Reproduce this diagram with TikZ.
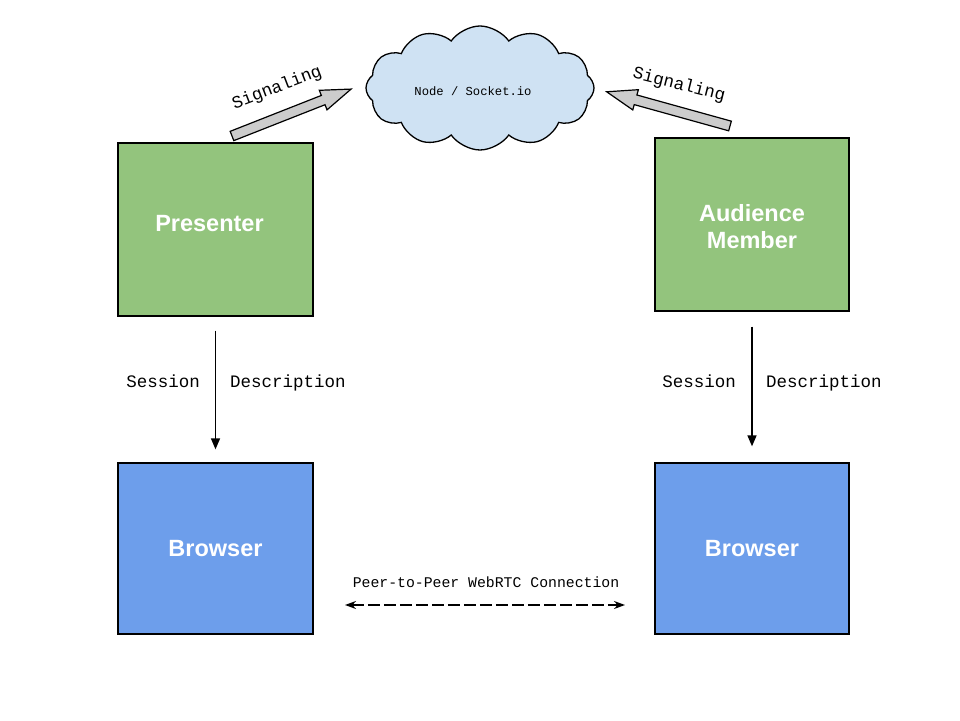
\documentclass[tikz,border=0pt]{standalone}
\usepackage{fontspec}
\setmainfont{Liberation Sans}
\newfontfamily\monof{Liberation Mono}
\usetikzlibrary{shapes.symbols,arrows.meta}
\definecolor{boxgreen}{HTML}{93C47D}
\definecolor{boxblue}{HTML}{6D9EEB}
\definecolor{cloudblue}{HTML}{CFE2F3}
\definecolor{arrowgray}{HTML}{CCCCCC}
\tikzset{
  bigbox/.style={draw=black, line width=1.3pt, minimum width=195pt, minimum height=172pt, inner sep=0pt,
    text=white, font=\fontsize{23.5}{27}\selectfont\bfseries, align=center},
  greenbox/.style={bigbox, fill=boxgreen},
  bluebox/.style={bigbox, fill=boxblue},
  boxtext/.style={text=white, font=\fontsize{23.5}{27}\selectfont\bfseries, align=center, inner sep=0pt},
  monolabel/.style={font=\monof\fontsize{17.5}{20}\selectfont, inner sep=0pt},
  sigarrow/.style={draw=black, line width=1.2pt, fill=arrowgray, line join=miter},
  downarrow/.style={line width=1.5pt, -{Triangle[length=11pt,width=9pt]}},
  p2parrow/.style={line width=1.4pt, dash pattern=on 12pt off 4pt, {Stealth[length=11pt,width=8pt]}-{Stealth[length=11pt,width=8pt]}}
}
\begin{document}
\begin{tikzpicture}[x=1pt,y=1pt]
\useasboundingbox[fill=white] (0,0) rectangle (960,720);

% cloud
\node[cloud, cloud puffs=12, cloud puff arc=110, aspect=1.9, draw=black, line width=1.3pt, fill=cloudblue,
  minimum width=228pt, minimum height=124pt, inner sep=0pt] (cloud) at (480,632) {};
\node[font=\monof\fontsize{12.2}{14}\selectfont] (cloudtxt) at (473,629) {Node / Socket.io};

% boxes
\node[greenbox, minimum width=195pt, minimum height=173pt] (pres) at (215.5,490.5) {};
\node[boxtext] (prestxt) at (209.5,496) {Presenter};
\node[greenbox, minimum width=194pt, minimum height=173pt] (aud) at (752,495.5) {};
\node[boxtext] (audtxt) at (752,493) {Audience\\Member};
\node[bluebox, minimum width=195pt, minimum height=171pt] (brL) at (215.5,171.5) {Browser};
\node[bluebox, minimum width=194pt, minimum height=171pt] (brR) at (752,171.5) {Browser};

% session description arrows
\draw[downarrow, shorten <=14pt, shorten >=13pt] (pres.south) -- (brL.north);
\draw[downarrow, shorten <=15pt, shorten >=16pt] (aud.south) -- (brR.north);
\node[monolabel, anchor=base east] (sL) at (200,332) {Session};
\node[monolabel, anchor=base west] (dL) at (230,332) {Description};
\node[monolabel, anchor=base east] (sR) at (736,332) {Session};
\node[monolabel, anchor=base west] (dR) at (766,332) {Description};

% peer to peer
\node[font=\monof\fontsize{14.8}{17}\selectfont] (p2p) at (486,138) {Peer-to-Peer WebRTC Connection};
\coordinate (pa) at (345,115);
\coordinate (pb) at (625,115);
\draw[p2parrow] (pa) -- (pb);

% signaling arrows
\begin{scope}[shift={(232,584)}, rotate=21.5]
  \draw[sigarrow] (0,-5) -- (98,-5) -- (98,-10.5) -- (128,0) -- (98,10.5) -- (98,5) -- (0,5) -- cycle;
\end{scope}
\begin{scope}[shift={(730,594)}, rotate=164.5]
  \draw[sigarrow] (0,-5) -- (98,-5) -- (98,-10.5) -- (128,0) -- (98,10.5) -- (98,5) -- (0,5) -- cycle;
\end{scope}
\node[monolabel, rotate=21] (sigL) at (277,632) {Signaling};
\node[monolabel, rotate=-14] (sigR) at (679,635) {Signaling};
\end{tikzpicture}
\end{document}
